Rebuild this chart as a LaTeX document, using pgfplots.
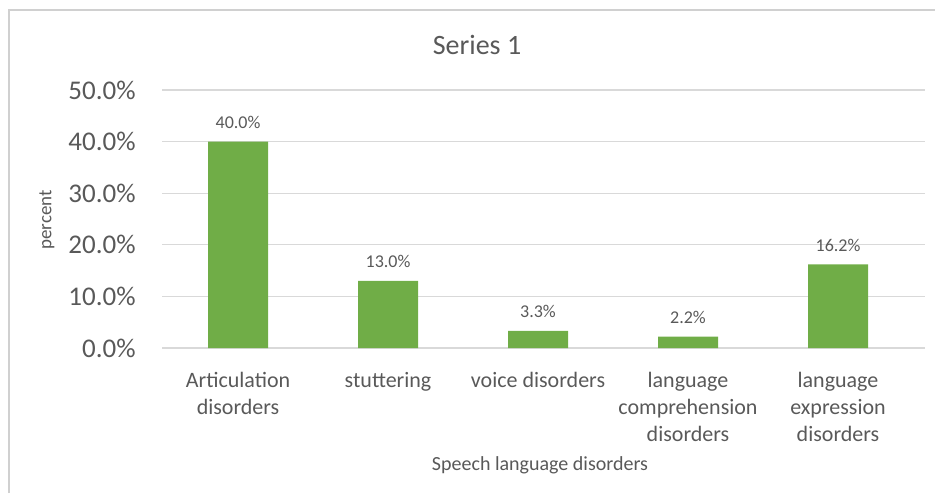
\documentclass[border=0pt]{standalone}
\usepackage{fontspec}
\setmainfont{Carlito}
\usepackage{pgfplots}
\pgfplotsset{compat=1.18}
\definecolor{bargreen}{HTML}{70AD47}
\definecolor{txt}{HTML}{595959}
\definecolor{gridc}{HTML}{D9D9D9}
\definecolor{borderc}{HTML}{D0D0D0}
\begin{document}
\begin{tikzpicture}[x=0.5pt,y=0.5pt]
\useasboundingbox (0,0) rectangle (935,493);
\draw[borderc, line width=0.8pt] (9,0) -- (9,483) -- (935,483);
\node[txt, font=\fontsize{14}{16}\selectfont] at (477,448) {Series 1};
\node[txt, font=\fontsize{9.5}{11}\selectfont, rotate=90] at (47,273) {percent};
\node[txt, font=\fontsize{10}{12}\selectfont] at (540,28) {Speech language disorders};
\begin{axis}[
  at={(81pt,72.5pt)}, anchor=south west,
  scale only axis, width=381.5pt, height=129pt,
  xmin=-0.507, xmax=4.58, ymin=0, ymax=50,
  axis line style={draw=none},
  major tick length=0pt,
  ytick={0,10,...,50},
  ymajorgrids, grid style={gridc, line width=0.6pt},
  /pgf/number format/assume math mode=true,
  yticklabel={\pgfmathprintnumber[fixed,fixed zerofill,precision=1]{\tick}\%},
  yticklabel style={txt, font=\fontsize{13.5}{16}\selectfont, anchor=east, inner sep=0pt, xshift=-13pt},
  xtick={0,1,2,3,4},
  xticklabels={{\strut Articulation\\disorders},{\strut stuttering},{\strut voice disorders},{\strut language\\comprehension\\disorders},{\strut language\\expression\\disorders}},
  xticklabel style={txt, font=\fontsize{11}{13.5}\selectfont, align=center, anchor=north, inner sep=0pt, yshift=-10pt},
  ybar, bar width=30pt,
  nodes near coords={\pgfmathprintnumber[fixed,fixed zerofill,precision=1]{\pgfplotspointmeta}\%},
  every node near coord/.append style={txt, font=\fontsize{9}{11}\selectfont, anchor=base, inner sep=0pt, yshift=6.5pt},
]
\addplot[fill=bargreen, draw=none] coordinates {(0,40.0) (1,13.0) (2,3.3) (3,2.2) (4,16.2)};
\end{axis}
\end{tikzpicture}
\end{document}
